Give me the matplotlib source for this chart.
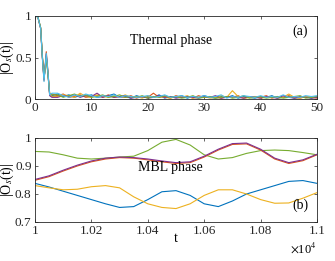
import numpy as np
import matplotlib.pyplot as plt

plt.rcParams['font.family'] = ['Liberation Serif', 'DejaVu Serif']
plt.rcParams['mathtext.fontset'] = 'stix'

# MATLAB default line colours
c_blue = '#0072BD'
c_orange = '#D95319'
c_yellow = '#EDB120'
c_purple = '#7E2F8E'
c_green = '#77AC30'
c_cyan = '#4DBEEE'

# ---- (a) thermal phase: early decay + small tail fluctuations ----
t_early = [0, 0.5, 1.0, 1.3, 1.6, 1.8, 2.0, 2.3, 2.6, 3.0]
early = {
    'blue':   [1, 0.99, 0.86, 0.52, 0.24, 0.38, 0.52, 0.30, 0.06, 0.04],
    'orange': [1, 0.99, 0.85, 0.50, 0.22, 0.40, 0.57, 0.33, 0.05, 0.06],
    'yellow': [1, 0.99, 0.86, 0.53, 0.26, 0.36, 0.50, 0.30, 0.07, 0.03],
    'purple': [1, 0.99, 0.85, 0.51, 0.23, 0.39, 0.54, 0.31, 0.04, 0.02],
    'green':  [1, 0.99, 0.86, 0.52, 0.25, 0.37, 0.51, 0.29, 0.06, 0.05],
    'cyan':   [1, 0.99, 0.85, 0.50, 0.21, 0.38, 0.55, 0.32, 0.05, 0.07],
}
t_tail = list(range(4, 51))
tail = {
    'blue':   [0.06, 0.03, 0.05, 0.02, 0.04, 0.03, 0.05, 0.02, 0.03, 0.04, 0.06, 0.02, 0.03, 0.01, 0.04, 0.02,
               0.03, 0.02, 0.05, 0.01, 0.03, 0.02, 0.04, 0.01, 0.03, 0.02, 0.04, 0.02, 0.01, 0.03, 0.02, 0.04,
               0.01, 0.03, 0.02, 0.01, 0.03, 0.02, 0.04, 0.01, 0.02, 0.03, 0.01, 0.02, 0.03, 0.01, 0.03],
    'orange': [0.04, 0.06, 0.02, 0.03, 0.05, 0.02, 0.03, 0.04, 0.02, 0.05, 0.02, 0.03, 0.02, 0.04, 0.01, 0.03,
               0.02, 0.07, 0.02, 0.03, 0.01, 0.04, 0.02, 0.03, 0.01, 0.04, 0.02, 0.03, 0.02, 0.01, 0.03, 0.02,
               0.04, 0.01, 0.02, 0.03, 0.02, 0.04, 0.01, 0.03, 0.02, 0.04, 0.02, 0.01, 0.03, 0.02, 0.01],
    'yellow': [0.03, 0.05, 0.04, 0.02, 0.07, 0.03, 0.02, 0.05, 0.03, 0.02, 0.04, 0.02, 0.05, 0.02, 0.03, 0.01,
               0.04, 0.02, 0.03, 0.02, 0.01, 0.03, 0.02, 0.04, 0.01, 0.02, 0.03, 0.01, 0.02, 0.04, 0.02, 0.10,
               0.03, 0.01, 0.02, 0.03, 0.01, 0.02, 0.03, 0.01, 0.02, 0.06, 0.02, 0.01, 0.03, 0.02, 0.02],
    'purple': [0.02, 0.04, 0.03, 0.05, 0.02, 0.04, 0.03, 0.07, 0.02, 0.04, 0.02, 0.03, 0.04, 0.01, 0.02, 0.03,
               0.01, 0.02, 0.04, 0.02, 0.03, 0.01, 0.02, 0.03, 0.02, 0.01, 0.03, 0.02, 0.04, 0.01, 0.02, 0.03,
               0.02, 0.01, 0.03, 0.02, 0.01, 0.03, 0.02, 0.01, 0.04, 0.02, 0.01, 0.03, 0.02, 0.01, 0.02],
    'green':  [0.05, 0.02, 0.04, 0.06, 0.03, 0.05, 0.02, 0.03, 0.05, 0.02, 0.03, 0.05, 0.02, 0.03, 0.02, 0.04,
               0.01, 0.03, 0.02, 0.04, 0.02, 0.03, 0.01, 0.02, 0.04, 0.01, 0.02, 0.03, 0.01, 0.02, 0.03, 0.01,
               0.02, 0.04, 0.01, 0.02, 0.03, 0.01, 0.02, 0.03, 0.01, 0.02, 0.03, 0.04, 0.01, 0.02, 0.03],
    'cyan':   [0.07, 0.04, 0.02, 0.05, 0.03, 0.06, 0.04, 0.02, 0.04, 0.03, 0.05, 0.02, 0.04, 0.03, 0.02, 0.03,
               0.04, 0.02, 0.03, 0.05, 0.02, 0.03, 0.04, 0.02, 0.03, 0.02, 0.04, 0.02, 0.03, 0.05, 0.01, 0.03,
               0.02, 0.04, 0.03, 0.02, 0.04, 0.02, 0.03, 0.02, 0.05, 0.02, 0.03, 0.02, 0.04, 0.03, 0.04],
}
colors_a = {'blue': c_blue, 'orange': c_orange, 'yellow': c_yellow,
            'purple': c_purple, 'green': c_green, 'cyan': c_cyan}

# ---- (b) MBL phase, t in units of 1e4 ----
t_b = [1.000, 1.005, 1.010, 1.015, 1.020, 1.025, 1.030, 1.035, 1.040, 1.045, 1.050,
       1.055, 1.060, 1.065, 1.070, 1.075, 1.080, 1.085, 1.090, 1.095, 1.100]
mbl_blue = [0.838, 0.825, 0.810, 0.795, 0.780, 0.765, 0.752, 0.755, 0.780, 0.808, 0.812,
            0.795, 0.765, 0.755, 0.775, 0.800, 0.815, 0.830, 0.845, 0.848, 0.838]
mbl_yellow = [0.830, 0.822, 0.815, 0.817, 0.826, 0.830, 0.822, 0.790, 0.765, 0.752, 0.748,
              0.765, 0.795, 0.815, 0.815, 0.800, 0.780, 0.767, 0.768, 0.785, 0.805]
mbl_green = [0.952, 0.950, 0.940, 0.928, 0.925, 0.928, 0.932, 0.935, 0.955, 0.985, 0.995,
             0.975, 0.940, 0.925, 0.930, 0.945, 0.955, 0.957, 0.955, 0.948, 0.940]
mbl_red = [0.849, 0.862, 0.882, 0.900, 0.915, 0.925, 0.930, 0.928, 0.922, 0.915, 0.909,
           0.912, 0.932, 0.957, 0.977, 0.979, 0.957, 0.925, 0.909, 0.919, 0.940]
mbl_purple = [0.852, 0.865, 0.885, 0.903, 0.918, 0.928, 0.932, 0.930, 0.925, 0.918, 0.912,
              0.915, 0.935, 0.960, 0.980, 0.982, 0.960, 0.928, 0.912, 0.922, 0.942]

fig = plt.figure(figsize=(3.35, 2.61), dpi=100)
ax1 = fig.add_axes([35/335, 1-99/261, 282/335, 83/261])
ax2 = fig.add_axes([35/335, 1-222/261, 282/335, 84/261])

for k, c in colors_a.items():
    ax1.plot(t_early + t_tail, early[k] + tail[k], color=c, lw=0.8)
ax1.set_xlim(0, 50)
ax1.set_ylim(0, 1)
ax1.set_xticks([0, 10, 20, 30, 40, 50])
ax1.set_yticks([0, 0.5, 1])
ax1.set_yticklabels(['0', '0.5', '1'])
ax1.text(24.2, 0.71, 'Thermal phase', fontsize=10, ha='center', va='center')
ax1.text(47.0, 0.82, '(a)', fontsize=10, ha='center', va='center')
ax1.set_ylabel('|O$_{s}$(t)|', fontsize=10)

ax2.plot(t_b, mbl_blue, color=c_blue, lw=0.8)
ax2.plot(t_b, mbl_yellow, color=c_yellow, lw=0.8)
ax2.plot(t_b, mbl_green, color=c_green, lw=0.8)
ax2.plot(t_b, mbl_red, color=c_orange, lw=0.8)
ax2.plot(t_b, mbl_purple, color=c_purple, lw=0.8)
ax2.set_xlim(1.0, 1.1)
ax2.set_ylim(0.7, 1.0)
ax2.set_xticks([1.0, 1.02, 1.04, 1.06, 1.08, 1.1])
ax2.set_xticklabels(['1', '1.02', '1.04', '1.06', '1.08', '1.1'])
ax2.set_yticks([0.7, 0.8, 0.9, 1.0])
ax2.set_yticklabels(['0.7', '0.8', '0.9', '1'])
ax2.text(1.048, 0.893, 'MBL phase', fontsize=10, ha='center', va='center')
ax2.text(1.094, 0.76, '(b)', fontsize=10, ha='center', va='center')
ax2.set_ylabel('|O$_{s}$(t)|', fontsize=10)
ax2.set_xlabel('t', fontsize=10, labelpad=-4)
ax2.text(1.0, -0.31, r'$\times$10$^{4}$', transform=ax2.transAxes,
         fontsize=9, ha='right', va='center')

for ax in (ax1, ax2):
    ax.yaxis.set_label_coords(-0.068, 0.5)
    for s in ax.spines.values():
        s.set_color('#262626')
        s.set_linewidth(0.6)
    ax.tick_params(direction='in', top=True, right=True, length=2.5, width=0.5,
                   labelsize=9.5, colors='#262626', pad=2.5)

fig.savefig('out.png', dpi=100)
